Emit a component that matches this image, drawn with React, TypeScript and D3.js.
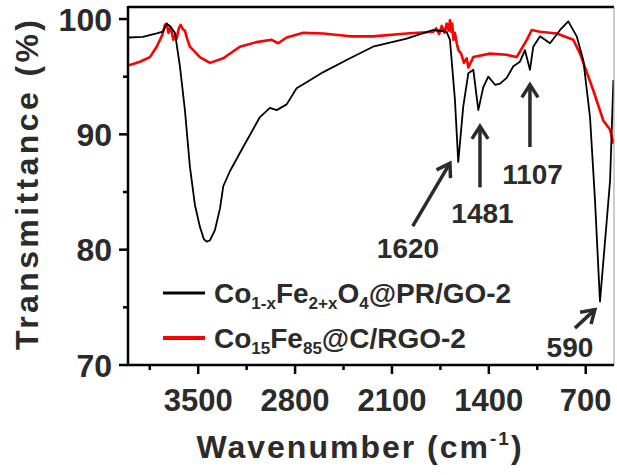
import { useEffect, useRef } from 'react';
import * as d3 from 'd3';

// spectra: wavenumber (cm-1) and transmittance (%)
const BLACK_WN = [4000, 3900, 3800, 3755, 3728, 3704, 3668, 3632, 3596, 3560, 3524, 3488, 3459, 3439, 3415, 3379, 3342, 3319, 3271, 3175, 3054, 2982, 2933, 2861, 2789, 2693, 2596, 2403, 2237, 1994, 1804, 1705, 1681, 1645, 1621, 1585, 1548, 1512, 1476, 1440, 1404, 1355, 1319, 1271, 1223, 1175, 1139, 1103, 1079, 1030, 958, 885, 826, 765, 717, 669, 633, 597, 560, 524, 500];
const BLACK_T = [98.4, 98.45, 98.75, 98.9, 99.6, 99.4, 98.8, 95.9, 92.1, 87.2, 83.9, 82.0, 80.9, 80.7, 80.8, 81.7, 83.6, 85.5, 86.8, 88.9, 91.5, 92.3, 92.1, 92.6, 94.0, 94.7, 95.4, 96.6, 97.6, 98.3, 99.05, 98.9, 98.2, 93.0, 87.6, 92.4, 95.3, 95.6, 92.1, 94.1, 95.0, 94.3, 94.4, 94.9, 95.9, 96.3, 97.3, 95.6, 97.6, 98.5, 97.9, 99.05, 99.8, 98.5, 96.4, 91.5, 84.3, 75.5, 80.8, 86.0, 94.7];

const RED_WN = [4000, 3921, 3849, 3800, 3760, 3740, 3728, 3715, 3700, 3692, 3680, 3665, 3656, 3640, 3627, 3610, 3596, 3580, 3560, 3488, 3415, 3319, 3199, 3078, 2969, 2922, 2861, 2741, 2596, 2403, 2237, 1994, 1800, 1780, 1760, 1740, 1720, 1705, 1690, 1681, 1672, 1665, 1655, 1645, 1632, 1620, 1600, 1580, 1560, 1548, 1512, 1392, 1271, 1199, 1126, 1090, 1030, 909, 790, 741, 645, 573, 524, 500];
const RED_T = [96.0, 96.3, 96.7, 97.6, 98.6, 99.5, 99.6, 98.8, 99.3, 98.9, 98.2, 98.6, 98.3, 99.2, 99.5, 99.1, 99.0, 98.3, 97.6, 96.7, 96.2, 96.6, 97.6, 98.0, 98.2, 97.9, 98.4, 98.8, 98.75, 98.5, 98.5, 98.75, 98.9, 99.2, 98.7, 99.4, 98.8, 99.6, 99.0, 99.9, 98.9, 99.6, 98.2, 98.8, 97.9, 97.3, 97.0, 96.2, 96.6, 95.8, 96.7, 97.0, 96.9, 96.7, 98.2, 99.05, 98.9, 98.75, 98.2, 97.0, 93.8, 91.2, 90.4, 89.2];

const X_MAJOR = [3500, 2800, 2100, 1400, 700];
const X_MINOR = [3850, 3150, 2450, 1750, 1050];
const Y_MAJOR = [70, 80, 90, 100];
const Y_MINOR = [75, 85, 95];

const PEAK_LABELS = ['1620', '1481', '1107', '590'];
const PEAK_TAIL = [[1950, 82.05], [1464, 85.4], [1103, 88.9], [778, 73.2]];
const PEAK_TIP = [[1681, 87.5], [1464, 90.7], [1103, 94.3], [634, 74.8]];
const PEAK_TEXT = [[1984, 79.3], [1446, 82.3], [1084, 85.7], [814, 70.7]];

const FONT = 'Liberation Sans, Arial, Helvetica, sans-serif';
const INK = '#2b2b2b';

export default function App() {
  const svgRef = useRef<SVGSVGElement>(null);

  useEffect(() => {
    const svg = d3.select(svgRef.current);
    svg.selectAll('*').remove();

    const x = d3.scaleLinear().domain([4000, 500]).range([129, 613.4]);
    const y = d3.scaleLinear().domain([70, 101]).range([365, 7.5]);
    const [x0, x1] = [128, 614];

    svg.append('defs').append('clipPath').attr('id', 'plot-clip')
      .append('rect').attr('x', x0).attr('y', 6).attr('width', x1 - x0).attr('height', 360);

    const line = d3.line<[number, number]>().x(d => x(d[0])).y(d => y(d[1]));
    const g = svg.append('g').attr('clip-path', 'url(#plot-clip)');
    g.append('path')
      .attr('d', line(RED_WN.map((w, i) => [w, RED_T[i]]) as [number, number][]))
      .attr('fill', 'none').attr('stroke', '#ff0000').attr('stroke-width', 2.6).attr('stroke-linejoin', 'round');
    g.append('path')
      .attr('d', line(BLACK_WN.map((w, i) => [w, BLACK_T[i]]) as [number, number][]))
      .attr('fill', 'none').attr('stroke', '#000').attr('stroke-width', 1.8).attr('stroke-linejoin', 'round');

    // frame
    svg.append('line').attr('x1', x0).attr('x2', x1).attr('y1', 7).attr('y2', 7).attr('stroke', '#000').attr('stroke-width', 2.5);
    svg.append('line').attr('x1', x1).attr('x2', x1).attr('y1', 7).attr('y2', 365).attr('stroke', '#999').attr('stroke-width', 1);
    svg.append('line').attr('x1', x0).attr('x2', x0).attr('y1', 6).attr('y2', 366).attr('stroke', '#000').attr('stroke-width', 2.5);
    svg.append('line').attr('x1', x0 - 1).attr('x2', x1).attr('y1', 365).attr('y2', 365).attr('stroke', '#000').attr('stroke-width', 2.5);

    // x ticks
    svg.selectAll('.xmaj').data(X_MAJOR).join('line')
      .attr('x1', d => x(d)).attr('x2', d => x(d)).attr('y1', 365).attr('y2', 374)
      .attr('stroke', '#000').attr('stroke-width', 2.5);
    svg.selectAll('.xmin').data(X_MINOR).join('line')
      .attr('x1', d => x(d)).attr('x2', d => x(d)).attr('y1', 365).attr('y2', 370)
      .attr('stroke', '#000').attr('stroke-width', 2.5);
    svg.selectAll('.xlab').data(X_MAJOR).join('text')
      .attr('x', d => x(d)).attr('y', 411).attr('text-anchor', 'middle')
      .attr('font-family', FONT).attr('font-weight', 'bold').attr('font-size', 31).attr('fill', INK)
      .text(d => d);

    // y ticks
    svg.selectAll('.ymaj').data(Y_MAJOR).join('line')
      .attr('x1', 119).attr('x2', x0).attr('y1', d => y(d)).attr('y2', d => y(d))
      .attr('stroke', '#000').attr('stroke-width', 2.5);
    svg.selectAll('.ymin').data(Y_MINOR).join('line')
      .attr('x1', 123).attr('x2', x0).attr('y1', d => y(d)).attr('y2', d => y(d))
      .attr('stroke', '#000').attr('stroke-width', 2.5);
    svg.selectAll('.ylab').data(Y_MAJOR).join('text')
      .attr('x', 112).attr('y', d => y(d) + 11.5).attr('text-anchor', 'end')
      .attr('font-family', FONT).attr('font-weight', 'bold').attr('font-size', 32).attr('fill', INK)
      .text(d => d);

    // axis titles
    const xt = svg.append('text').attr('x', 360).attr('y', 458).attr('text-anchor', 'middle')
      .attr('font-family', FONT).attr('font-weight', 'bold').attr('font-size', 32).attr('fill', INK)
      .attr('letter-spacing', 2);
    xt.append('tspan').text('Wavenumber (cm');
    xt.append('tspan').attr('font-size', 19).attr('dy', -13).text('-1');
    xt.append('tspan').attr('dy', 13).text(')');

    svg.append('text').attr('transform', 'translate(38,185) rotate(-90)').attr('text-anchor', 'middle')
      .attr('font-family', FONT).attr('font-weight', 'bold').attr('font-size', 32).attr('fill', INK)
      .attr('textLength', 330).attr('lengthAdjust', 'spacing')
      .text('Transmittance (%)');

    // legend
    const legend = [
      { color: '#000', width: 3, y: 293, parts: [['Co', 0], ['1-x', 1], ['Fe', 0], ['2+x', 1], ['O', 0], ['4', 1], ['@PR/GO-2', 0]] },
      { color: '#ff0000', width: 4, y: 338, parts: [['Co', 0], ['15', 1], ['Fe', 0], ['85', 1], ['@C/RGO-2', 0]] },
    ];
    legend.forEach(item => {
      svg.append('line').attr('x1', 163).attr('x2', 205).attr('y1', item.y).attr('y2', item.y)
        .attr('stroke', item.color).attr('stroke-width', item.width);
      const t = svg.append('text').attr('x', 214).attr('y', item.y + 9.5)
        .attr('font-family', FONT).attr('font-weight', 'bold').attr('font-size', 28).attr('fill', INK);
      let sub = false;
      item.parts.forEach(([s, isSub]) => {
        const ts = t.append('tspan').text(s as string);
        if (isSub && !sub) { ts.attr('font-size', 17).attr('dy', 6); sub = true; }
        else if (!isSub && sub) { ts.attr('dy', -6); sub = false; }
      });
    });

    // peak annotations
    PEAK_LABELS.forEach((lab, i) => {
      const [tx, ty] = [x(PEAK_TAIL[i][0]), y(PEAK_TAIL[i][1])];
      const [hx, hy] = [x(PEAK_TIP[i][0]), y(PEAK_TIP[i][1])];
      const ang = Math.atan2(hy - ty, hx - tx);
      const len = 15, spread = Math.PI / 5.5;
      const a1 = [hx - len * Math.cos(ang - spread), hy - len * Math.sin(ang - spread)];
      const a2 = [hx - len * Math.cos(ang + spread), hy - len * Math.sin(ang + spread)];
      svg.append('line').attr('x1', tx).attr('y1', ty).attr('x2', hx).attr('y2', hy)
        .attr('stroke', INK).attr('stroke-width', 3.5);
      svg.append('path').attr('d', `M${a1[0]},${a1[1]}L${hx},${hy}L${a2[0]},${a2[1]}`)
        .attr('fill', 'none').attr('stroke', INK).attr('stroke-width', 3.5).attr('stroke-linejoin', 'miter');
      svg.append('text').attr('x', x(PEAK_TEXT[i][0])).attr('y', y(PEAK_TEXT[i][1])).attr('text-anchor', 'middle')
        .attr('font-family', FONT).attr('font-weight', 'bold').attr('font-size', 28).attr('fill', INK)
        .text(lab);
    });
  }, []);

  return (
    <svg ref={svgRef} width={617} height={475}
      style={{ position: 'absolute', left: 0, top: 0, background: '#fff' }} />
  );
}
